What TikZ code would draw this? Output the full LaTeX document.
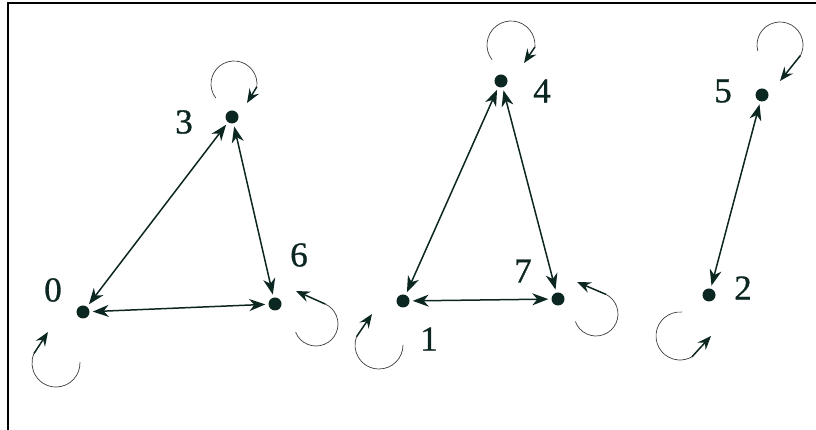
\documentclass[tikz,border=0pt]{standalone}
\usepackage{fontspec}
\setmainfont{Liberation Serif}
\newfontfamily\lblfont[FakeBold=0.8]{Liberation Serif}
\usetikzlibrary{arrows.meta}
\definecolor{ink}{RGB}{12,38,33}
\definecolor{loopc}{RGB}{60,60,60}
\tikzset{
 vdot/.style={circle, fill=ink, minimum size=13pt, inner sep=0pt},
 lbl/.style={text=ink, font=\lblfont\fontsize{35}{35}\selectfont, inner sep=0pt},
 link/.style={draw=ink, line width=1.5pt, {Stealth[length=16pt,width=12pt,inset=5pt]}-{Stealth[length=16pt,width=12pt,inset=5pt]}, shorten <=3pt, shorten >=3pt},
 looparc/.style={draw=loopc, line width=0.7pt},
 loopshaft/.style={draw=ink, line width=1.5pt, -{Stealth[length=14pt,width=11pt,inset=5pt]}},
}
\newcommand\selfloop[8]{%
 \draw[looparc] ([shift={(#2,#3)},shift={(#5:#4)}]#1.center) arc[start angle=#5, end angle=#6, radius=#4] coordinate (#1e);
 \draw[loopshaft] (#1e) -- ([shift={(#7,#8)}]#1.center);
}
\begin{document}
\begin{tikzpicture}[x=1pt,y=1pt]
\useasboundingbox (0,0) rectangle (816,430);
\draw[line width=2.2pt] (8,0) -- (8,427) -- (816,427);
% vertices
\node[vdot] (n0) at (83,118) {};
\node[vdot] (n3) at (232,313) {};
\node[vdot] (n6) at (275,126) {};
\node[vdot] (n1) at (403,129) {};
\node[vdot] (n7) at (558,131) {};
\node[vdot] (n4) at (501,349) {};
\node[vdot] (n5) at (762,335) {};
\node[vdot] (n2) at (709,135) {};
% labels
\node[lbl] (l0) at (53,140) {0};
\node[lbl] (l3) at (184,308) {3};
\node[lbl] (l6) at (299,175) {6};
\node[lbl] (l1) at (429,91) {1};
\node[lbl] (l7) at (523,159) {7};
\node[lbl] (l4) at (542,339) {4};
\node[lbl] (l5) at (723,339) {5};
\node[lbl] (l2) at (743,142) {2};
% edges
\draw[link] (n0) -- (n3);
\draw[link] (n0) -- (n6);
\draw[link] (n3) -- (n6);
\draw[link] (n1) -- (n4);
\draw[link] (n4) -- (n7);
\draw[link] (n1) -- (n7);
\draw[link] (n5) -- (n2);
% self loops
\selfloop{n3}{2}{33}{23}{218}{-7}{15}{14}
\selfloop{n4}{10}{36}{24}{218}{-5}{23}{18}
\selfloop{n5}{18}{50}{23}{195}{-27}{18}{14}
\selfloop{n0}{-27}{-51}{24}{2}{-203}{-35}{-20}
\selfloop{n1}{-24}{-44}{24}{0}{-200}{-31}{-13}
\selfloop{n6}{41}{-20}{22}{202}{425}{21}{13}
\selfloop{n7}{38}{-15}{22}{200}{423}{19}{17}
\selfloop{n2}{-29}{-41}{24}{85}{300}{2}{-41}
\end{tikzpicture}
\end{document}
